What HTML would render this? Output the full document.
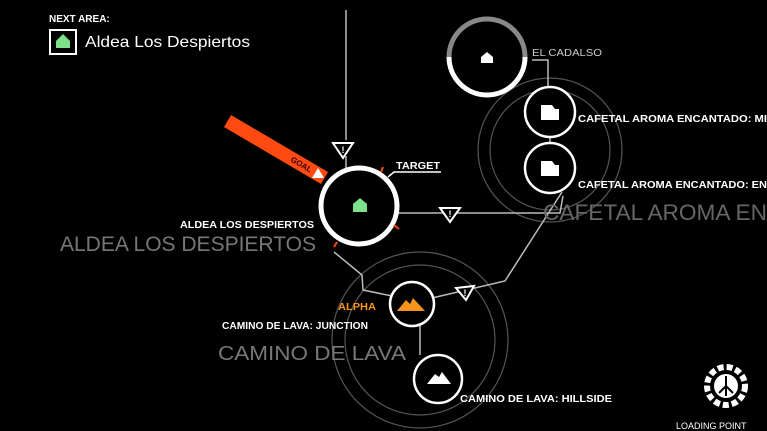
<!DOCTYPE html>
<html><head><style>
html,body{margin:0;padding:0;background:#000;width:767px;height:431px;overflow:hidden}
svg text{font-family:"Liberation Sans",sans-serif}
</style></head><body>
<svg width="767" height="431" viewBox="0 0 767 431" xmlns="http://www.w3.org/2000/svg">
<rect width="767" height="431" fill="#000"/>
<g fill="none" stroke="#555" stroke-width="1.2">
<circle cx="550" cy="150" r="72"/>
<circle cx="550" cy="150" r="60"/>
<circle cx="420" cy="340" r="88"/>
<circle cx="420" cy="340" r="75"/>
</g>
<g fill="none" stroke="#bbb" stroke-width="1.5">
<polyline points="346,10 346,140"/>
<polyline points="346,156 346,172"/>
<polyline points="398,213 560,213 563,196"/>
<polyline points="532,60 548,60 548,88"/>
<line x1="550" y1="137" x2="550" y2="143"/>
<polyline points="334,252 362,275 363,290 392,296"/>
<polyline points="432,298 505,281 562,192"/>
<polyline points="420,325 420,345 420,355"/>
</g>
<g fill="#000" stroke="#fff" stroke-width="2">
<polygon points="333,143 353,143 343,158"/>
<polygon points="440,208 460,208 450,222"/>
<polygon points="456,288 474,286 466,300"/>
</g>
<g fill="#fff" font-size="9" font-weight="bold" text-anchor="middle">
<text x="343" y="153">!</text><text x="450" y="217">!</text><text x="465" y="296">!</text>
</g>
<polygon points="231,115 328,172 321,184 224,127" fill="#ff4a12"/>
<text x="290" y="161" font-size="8" fill="#300" transform="rotate(30 290 161)" font-weight="bold">GOAL</text>
<polygon points="318,168 324,178 312,178" fill="#fff"/>
<circle cx="359" cy="206" r="38" fill="#000" stroke="#fff" stroke-width="5"/>
<polygon points="360,198 367,204 367,212 353,212 353,204" fill="#7de08a"/>
<g stroke="#ff4a12" stroke-width="2"><line x1="381" y1="172" x2="383" y2="167"/><line x1="394" y1="225" x2="399" y2="229"/><line x1="337" y1="242" x2="334" y2="247"/></g>
<polyline points="388,177 394,172 441,172" fill="none" stroke="#fff" stroke-width="1.5"/>
<text x="396" y="169" font-size="10" fill="#fff" font-weight="bold" textLength="44" lengthAdjust="spacingAndGlyphs">TARGET</text>
<path d="M449,57 A38,38 0 0 1 525,57" fill="none" stroke="#888" stroke-width="5"/>
<path d="M449,57 A38,38 0 0 0 525,57" fill="none" stroke="#fff" stroke-width="5"/>
<polygon points="487,52 493,57 493,63 481,63 481,57" fill="#fff"/>
<text x="532" y="56" font-size="10" fill="#ccc" textLength="70" lengthAdjust="spacingAndGlyphs">EL CADALSO</text>
<circle cx="550" cy="112" r="25" fill="#000" stroke="#fff" stroke-width="2.5"/>
<circle cx="550" cy="168" r="25" fill="#000" stroke="#fff" stroke-width="2.5"/>
<polygon points="541,105 552,105 555,109 559,109 559,120 541,120" fill="#fff"/>
<polygon points="541,161 552,161 555,165 559,165 559,176 541,176" fill="#fff"/>
<text x="578" y="122" font-size="10" fill="#fff" font-weight="bold" textLength="189" lengthAdjust="spacingAndGlyphs">CAFETAL AROMA ENCANTADO: MI</text>
<text x="578" y="188" font-size="10" fill="#fff" font-weight="bold" textLength="189" lengthAdjust="spacingAndGlyphs">CAFETAL AROMA ENCANTADO: EN</text>
<text x="543" y="220" font-size="22" fill="#666" textLength="224" lengthAdjust="spacingAndGlyphs">CAFETAL AROMA EN</text>
<text x="180" y="228" font-size="10" fill="#fff" font-weight="bold" textLength="134" lengthAdjust="spacingAndGlyphs">ALDEA LOS DESPIERTOS</text>
<text x="60" y="251" font-size="21" fill="#777" textLength="256" lengthAdjust="spacingAndGlyphs">ALDEA LOS DESPIERTOS</text>
<circle cx="412" cy="304" r="22" fill="#000" stroke="#fff" stroke-width="2.5"/>
<polygon points="397,311 406,300 410,304 413,298 425,311" fill="#f7941d"/>
<text x="338" y="310" font-size="10" fill="#f7941d" font-weight="bold" textLength="38" lengthAdjust="spacingAndGlyphs">ALPHA</text>
<text x="222" y="329" font-size="10" fill="#fff" font-weight="bold" textLength="146" lengthAdjust="spacingAndGlyphs">CAMINO DE LAVA: JUNCTION</text>
<text x="218" y="360" font-size="20" fill="#777" textLength="188" lengthAdjust="spacingAndGlyphs">CAMINO DE LAVA</text>
<circle cx="438" cy="379" r="24" fill="#000" stroke="#fff" stroke-width="2.5"/>
<polygon points="427,384 435,374 439,377 442,372 451,384" fill="#fff"/>
<text x="460" y="402" font-size="10" fill="#fff" font-weight="bold" textLength="152" lengthAdjust="spacingAndGlyphs">CAMINO DE LAVA: HILLSIDE</text>
<text x="49" y="22" font-size="10" fill="#fff" font-weight="bold">NEXT AREA:</text>
<rect x="50" y="30" width="26" height="24" fill="#000" stroke="#fff" stroke-width="2"/>
<polygon points="63,34 70,41 70,48 56,48 56,41" fill="#7de08a"/>
<text x="85" y="47" font-size="16" fill="#fff" textLength="165" lengthAdjust="spacingAndGlyphs">Aldea Los Despiertos</text>
<circle cx="726" cy="386" r="19" fill="none" stroke="#fff" stroke-width="6" stroke-dasharray="6 3"/>
<circle cx="726" cy="386" r="12" fill="#fff"/>
<g stroke="#000" stroke-width="2"><line x1="726" y1="376" x2="726" y2="396"/><line x1="726" y1="386" x2="719" y2="393"/><line x1="726" y1="386" x2="733" y2="393"/></g>
<text x="676" y="429" font-size="9" fill="#fff">LOADING POINT</text>
</svg>
</body></html>
